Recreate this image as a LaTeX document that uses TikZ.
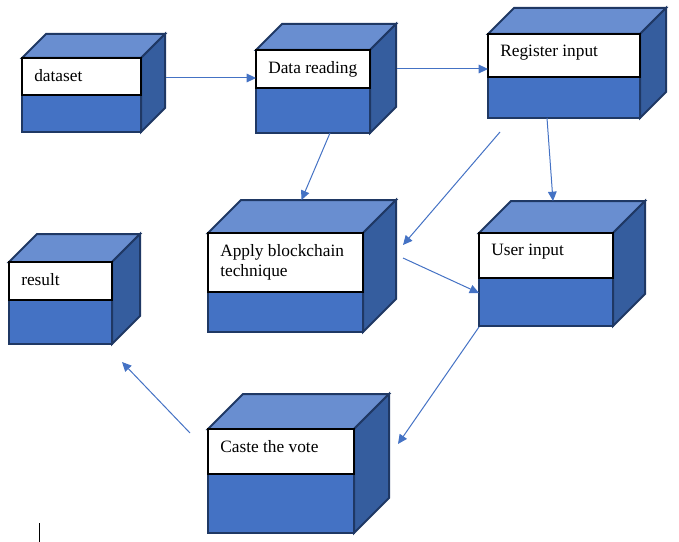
\documentclass[tikz,border=0pt]{standalone}
\usepackage{fontspec}
\setmainfont{Liberation Serif}
\usepackage{tikz}
\usetikzlibrary{arrows.meta}

\definecolor{boxfront}{HTML}{4472C4}
\definecolor{boxtop}{HTML}{698ED0}
\definecolor{boxside}{HTML}{355D9E}
\definecolor{boxline}{HTML}{1F3864}
\definecolor{flowblue}{HTML}{4472C4}

% name, x, y, width, height, depth, label height, text
\newcommand{\votebox}[8]{%
  \node[front,minimum width=#4*0.75pt,minimum height=#5*0.75pt] (#1) at (#2,#3) {};
  \draw[topface] (#1.north west) -- ++(#6,-#6) -- ++(#4,0) -- (#1.north east) -- cycle;
  \draw[sideface] (#1.north east) -- ++(#6,-#6) -- ++(0,#5) -- (#1.south east) -- cycle;
  \draw[labelbox] (#1.north west) rectangle ++(#4,#7);
  \node[boxtext] (#1-t) at ([shift={(12,11)}]#1.north west) {#8};
}

\begin{document}
\begin{tikzpicture}[x=0.75pt,y=-0.75pt,
  front/.style={rectangle,draw=boxline,fill=boxfront,line width=1.5pt,inner sep=0pt,outer sep=0pt,anchor=north west},
  topface/.style={draw=boxline,fill=boxtop,line width=1.5pt},
  sideface/.style={draw=boxline,fill=boxside,line width=1.5pt},
  labelbox/.style={draw=black,fill=white,line width=0.8pt},
  boxtext/.style={anchor=north west,inner sep=0pt,align=left,font=\fontsize{13}{15}\selectfont},
  flow/.style={draw=flowblue,line width=0.75pt,-{Triangle[length=7pt,width=6.5pt]}}]

\useasboundingbox (0,0) rectangle (679,542);

\votebox{dataset}{22}{58}{119}{74}{24}{37}{dataset}
\votebox{read}{256}{50}{114}{83}{26}{38}{Data reading}
\votebox{reg}{488}{34}{152}{84}{26}{43}{Register input}
\votebox{apply}{208}{233}{155}{99}{33}{59}{Apply blockchain\\technique}
\votebox{user}{479}{233}{134}{93}{32}{45}{User input}
\votebox{result}{9}{262}{103}{82}{28}{38}{result}
\votebox{vote}{208}{429}{146}{104}{35}{45}{Caste the vote}

\draw[flow] ([shift={(25,20)}]dataset.north east) -- ([shift={(0,28)}]read.north west);
\draw[flow] ([shift={(27,19)}]read.north east) -- ([shift={(0,35)}]reg.north west);
\draw[flow] ([shift={(17,0)}]read.south) -- ([shift={(16,-33)}]apply.north);
\draw[flow] ([shift={(12,14)}]reg.south west) -- ([shift={(40,12)}]apply.north east);
\draw[flow] ([shift={(-17,0)}]reg.south) -- ([shift={(7,-32)}]user.north);
\draw[flow] ([shift={(40,25)}]apply.north east) -- ([shift={(0,60)}]user.north west);
\draw[flow] ([shift={(0,1)}]user.south west) -- ([shift={(44,15)}]vote.north east);
\draw[flow] ([shift={(-18,4)}]vote.north west) -- ([shift={(10,18)}]result.south east);

\draw[line width=0.75pt] (39,523) -- (39,542);

\end{tikzpicture}
\end{document}
